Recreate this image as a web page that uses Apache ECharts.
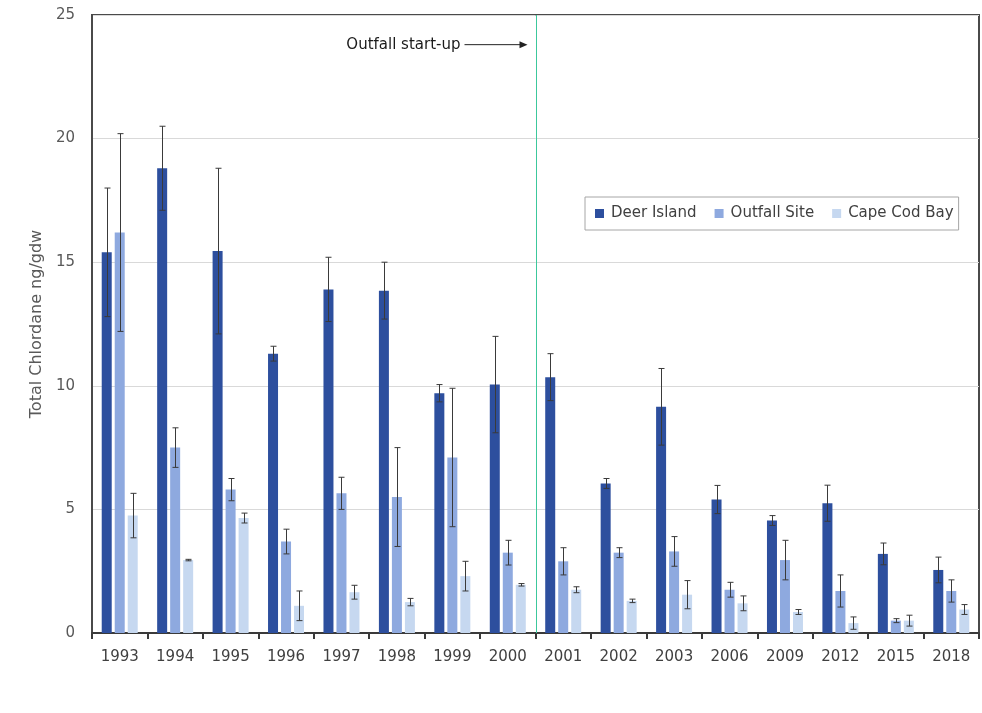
<!DOCTYPE html>
<html>
<head>
<meta charset="utf-8">
<script src="https://cdn.jsdelivr.net/npm/echarts@6/dist/echarts.min.js"></script>
<style>
  html, body { margin: 0; padding: 0; background: #ffffff; }
  #chart { width: 982px; height: 713px; }
</style>
</head>
<body>
<div id="chart"></div>
<script>
// Sampling years and mean total chlordane (ng/gdw) with standard-error bars
const years = ['1993','1994','1995','1996','1997','1998','1999','2000','2001','2002','2003','2006','2009','2012','2015','2018'];
const deerIsland    = [15.4, 18.8, 15.45, 11.3, 13.9, 13.85, 9.7, 10.05, 10.35, 6.05, 9.15, 5.4, 4.55, 5.25, 3.2, 2.55];
const deerIslandErr = [2.6, 1.7, 3.35, 0.3, 1.3, 1.15, 0.35, 1.95, 0.95, 0.2, 1.55, 0.57, 0.2, 0.73, 0.44, 0.52];
const outfallSite    = [16.2, 7.5, 5.8, 3.7, 5.65, 5.5, 7.1, 3.25, 2.9, 3.25, 3.3, 1.75, 2.95, 1.7, 0.5, 1.7];
const outfallSiteErr = [4.0, 0.8, 0.45, 0.5, 0.65, 2.0, 2.8, 0.5, 0.55, 0.2, 0.6, 0.3, 0.8, 0.65, 0.08, 0.45];
const capeCodBay    = [4.75, 2.95, 4.65, 1.1, 1.65, 1.25, 2.3, 1.95, 1.75, 1.3, 1.55, 1.2, 0.85, 0.4, 0.5, 0.95];
const capeCodBayErr = [0.9, 0.03, 0.2, 0.6, 0.28, 0.15, 0.6, 0.05, 0.12, 0.07, 0.57, 0.3, 0.1, 0.25, 0.22, 0.2];
const yTicks = { min: 0, max: 25, interval: 5 };
const startupAfterYear = '2000';
const startupLabel = 'Outfall start-up';
const startupLabelLevel = 23.8;

const FONT = '"DejaVu Sans", "Open Sans", sans-serif';
const BAR_W = 10;
const BAR_GAP = 3;
const colors = ['#2d4f9e', '#8ea9df', '#c6d8f0'];

function errorSeries(name, means, errs, slot) {
  const data = means.map((m, i) => [i, m, errs[i]]);
  return {
    type: 'custom',
    name: name + ' error',
    z: 5,
    silent: true,
    data: data,
    encode: { x: 0, y: 1 },
    renderItem: function (params, api) {
      const i = api.value(0), m = api.value(1), e = api.value(2);
      const off = (slot - 1) * (BAR_W + BAR_GAP);
      const top = api.coord([i, m + e]);
      const bot = api.coord([i, Math.max(0, m - e)]);
      const x = Math.round(top[0] + off) + 0.5;
      const cap = 3;
      const style = { stroke: '#3a3a3a', lineWidth: 1 };
      return {
        type: 'group',
        children: [
          { type: 'line', shape: { x1: x, y1: top[1], x2: x, y2: bot[1] }, style: style },
          { type: 'line', shape: { x1: x - cap, y1: top[1], x2: x + cap, y2: top[1] }, style: style },
          { type: 'line', shape: { x1: x - cap, y1: bot[1], x2: x + cap, y2: bot[1] }, style: style }
        ]
      };
    }
  };
}

function barSeries(name, values, color) {
  return {
    type: 'bar',
    name: name,
    data: values,
    barWidth: BAR_W,
    barGap: '30%',
    itemStyle: { color: color },
    z: 3
  };
}

const chart = echarts.init(document.getElementById('chart'), null, { renderer: 'canvas' });

chart.setOption({
  animation: false,
  backgroundColor: '#ffffff',
  textStyle: { fontFamily: FONT },
  grid: {
    left: 92, top: 15, right: 3, bottom: 80,
    show: true, borderColor: '#4a4a4a', borderWidth: 2, backgroundColor: 'transparent'
  },
  legend: {
    data: ['Deer Island', 'Outfall Site', 'Cape Cod Bay'],
    left: 585, top: 197,
    orient: 'horizontal',
    icon: 'rect',
    itemWidth: 9, itemHeight: 9, itemGap: 18,
    padding: [9, 5, 9, 10],
    borderColor: '#a6a6a6', borderWidth: 1,
    backgroundColor: '#ffffff',
    textStyle: { color: '#404040', fontSize: 15, fontFamily: FONT, padding: [0, 0, 0, 2] }
  },
  xAxis: {
    type: 'category',
    data: years,
    boundaryGap: true,
    axisLine: { lineStyle: { color: '#3a3a3a', width: 2 } },
    axisTick: { show: true, interval: 0, length: 6, lineStyle: { color: '#3a3a3a', width: 2 } },
    axisLabel: { color: '#404040', fontSize: 15, margin: 17, interval: 0, fontFamily: FONT },
    splitLine: { show: false }
  },
  yAxis: {
    type: 'value',
    min: yTicks.min, max: yTicks.max, interval: yTicks.interval,
    name: 'Total Chlordane ng/gdw',
    nameLocation: 'middle',
    nameGap: 46,
    nameTextStyle: { color: '#595959', fontSize: 16, fontFamily: FONT },
    axisLine: { show: true, lineStyle: { color: '#4a4a4a', width: 2 } },
    axisTick: { show: false },
    axisLabel: { color: '#595959', fontSize: 15, margin: 17, fontFamily: FONT },
    splitLine: { lineStyle: { color: '#d9d9d9', width: 1 } }
  },
  series: [
    barSeries('Deer Island', deerIsland, colors[0]),
    barSeries('Outfall Site', outfallSite, colors[1]),
    barSeries('Cape Cod Bay', capeCodBay, colors[2]),
    errorSeries('Deer Island', deerIsland, deerIslandErr, 0),
    errorSeries('Outfall Site', outfallSite, outfallSiteErr, 1),
    errorSeries('Cape Cod Bay', capeCodBay, capeCodBayErr, 2),
    {
      // Vertical marker at the outfall start-up, with its arrowed label
      type: 'custom',
      name: 'startup',
      silent: true,
      z: 6,
      data: [[years.indexOf(startupAfterYear), startupLabelLevel]],
      encode: { x: 0, y: 1 },
      renderItem: function (params, api) {
        const i = api.value(0);
        const band = api.size([1, 0])[0];
        const base = api.coord([i, yTicks.min]);
        const topPt = api.coord([i, yTicks.max]);
        const lvl = api.coord([i, api.value(1)]);
        const x = Math.round(base[0] + band / 2) + 0.5;
        const arrowEnd = x - 9;
        const arrowStart = x - 72;
        return {
          type: 'group',
          children: [
            { type: 'line', shape: { x1: x, y1: topPt[1], x2: x, y2: base[1] },
              style: { stroke: '#3cc89c', lineWidth: 1 } },
            { type: 'line', shape: { x1: arrowStart, y1: lvl[1], x2: arrowEnd - 6, y2: lvl[1] },
              style: { stroke: '#222222', lineWidth: 1 } },
            { type: 'polygon', shape: { points: [[arrowEnd, lvl[1]], [arrowEnd - 8, lvl[1] - 3.5], [arrowEnd - 8, lvl[1] + 3.5]] },
              style: { fill: '#222222' } },
            { type: 'text', x: arrowStart - 4, y: lvl[1],
              style: { text: startupLabel, fill: '#1a1a1a', font: '15px ' + FONT, align: 'right', verticalAlign: 'middle' } }
          ]
        };
      }
    }
  ]
});
</script>
</body>
</html>
